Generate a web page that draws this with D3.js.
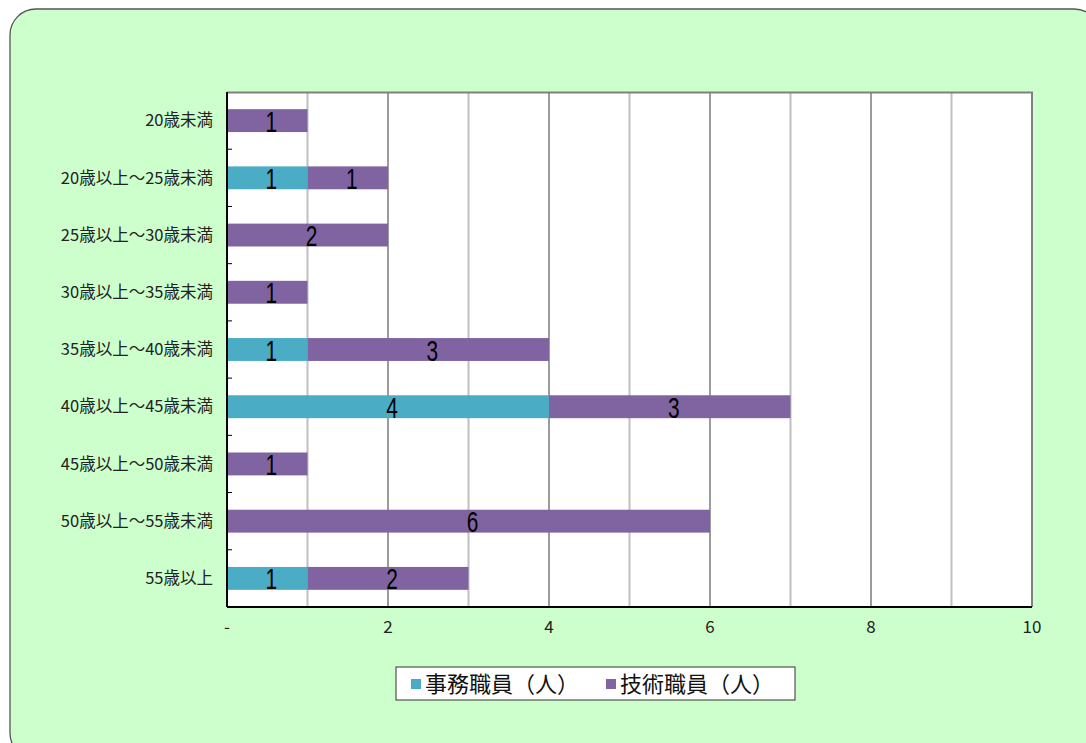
<!DOCTYPE html>
<html>
  <head>
    <meta charset="utf-8">
    <title>年齢別職員数</title>
    <script src="https://d3js.org/d3.v7.min.js"></script>
    <style>
      body { margin: 0; background: #fff; }
      text { font-family: "Noto Sans CJK JP", sans-serif; }
    </style>
  </head>
  <body>
    <svg width="1086" height="743" id="mainsvg"></svg>
    <script>
      const categories = ['20歳未満', '20歳以上～25歳未満', '25歳以上～30歳未満', '30歳以上～35歳未満',
        '35歳以上～40歳未満', '40歳以上～45歳未満', '45歳以上～50歳未満', '50歳以上～55歳未満', '55歳以上'];
      const clerical = [0, 1, 0, 0, 1, 4, 0, 0, 1];
      const technical = [1, 1, 2, 1, 3, 3, 1, 6, 2];
      const seriesNames = ['事務職員（人）', '技術職員（人）'];
      const colors = ['#4bacc6', '#8064a2'];
      const xTicks = [0, 2, 4, 6, 8, 10];

      const svg = d3.select('#mainsvg');
      const margin = {top: 92, left: 227, right: 54, bottom: 136};
      const width = +svg.attr('width');
      const height = +svg.attr('height');
      const innerWidth = width - margin.left - margin.right;
      const innerHeight = height - margin.top - margin.bottom;

      // background panel
      svg.append('rect')
        .attr('x', 10).attr('y', 9).attr('width', 1090).attr('height', 750)
        .attr('rx', 26).attr('ry', 26)
        .attr('fill', '#ccffcc').attr('stroke', '#555').attr('stroke-width', 1.3);

      const g = svg.append('g').attr('transform', `translate(${margin.left}, ${margin.top})`);

      const xScale = d3.scaleLinear().domain([0, 10]).range([0, innerWidth]);
      const yScale = d3.scaleBand().domain(categories).range([0, innerHeight]).paddingInner(0.6).paddingOuter(0.3);

      g.append('rect').attr('width', innerWidth).attr('height', innerHeight).attr('fill', '#fff');

      // gridlines
      g.selectAll('.grid').data(d3.range(1, 11)).join('line')
        .attr('class', 'grid')
        .attr('x1', d => xScale(d)).attr('x2', d => xScale(d))
        .attr('y1', 0).attr('y2', innerHeight)
        .attr('stroke', d => d % 2 === 0 ? '#595959' : '#c0c0c0')
        .attr('stroke-width', d => d % 2 === 0 ? 1.2 : 2);

      // top / right frame
      g.append('path').attr('d', `M0,0.5H${innerWidth}V${innerHeight}`)
        .attr('fill', 'none').attr('stroke', '#808080').attr('stroke-width', 2);

      // stacked bars
      const rows = categories.map((c, i) => ({cat: c, vals: [clerical[i], technical[i]]}));
      rows.forEach(r => {
        let x0 = 0;
        r.vals.forEach((v, k) => {
          if (v > 0) {
            g.append('rect')
              .attr('x', xScale(x0)).attr('width', xScale(x0 + v) - xScale(x0))
              .attr('y', yScale(r.cat)).attr('height', yScale.bandwidth())
              .attr('fill', colors[k]);
            const tx = xScale(x0 + v / 2) + 4;
            const ty = yScale(r.cat) + yScale.bandwidth() / 2 + 11;
            g.append('text')
              .attr('transform', `translate(${tx}, ${ty}) scale(0.72, 1)`)
              .attr('text-anchor', 'middle')
              .style('font-family', '"Liberation Sans", sans-serif')
              .attr('font-size', 29)
              .attr('fill', '#000')
              .text(v);
          }
          x0 += v;
        });
      });

      // y axis
      g.append('line').attr('x1', 0).attr('x2', 0).attr('y1', 0).attr('y2', innerHeight)
        .attr('stroke', '#000').attr('stroke-width', 2);
      const step = innerHeight / categories.length;
      g.selectAll('.ytick').data(d3.range(1, categories.length)).join('line')
        .attr('class', 'ytick')
        .attr('x1', 0).attr('x2', 5)
        .attr('y1', d => d * step).attr('y2', d => d * step)
        .attr('stroke', '#000');
      g.selectAll('.ylabel').data(categories).join('text')
        .attr('class', 'ylabel')
        .attr('x', -14)
        .attr('y', d => yScale(d) + yScale.bandwidth() / 2)
        .attr('dy', '0.35em')
        .attr('text-anchor', 'end')
        .attr('font-size', 16.5)
        .attr('fill', '#222')
        .text(d => d);

      // x axis
      g.append('line').attr('x1', 0).attr('x2', innerWidth).attr('y1', innerHeight).attr('y2', innerHeight)
        .attr('stroke', '#000').attr('stroke-width', 2);
      g.selectAll('.xlabel').data(xTicks).join('text')
        .attr('class', 'xlabel')
        .attr('x', d => xScale(d))
        .attr('y', innerHeight + 26)
        .attr('text-anchor', 'middle')
        .attr('font-size', 17)
        .attr('fill', '#222')
        .text(d => d === 0 ? '-' : d);

      // legend
      const lg = svg.append('g').attr('transform', 'translate(396, 667)');
      lg.append('rect').attr('width', 399).attr('height', 33)
        .attr('fill', '#fff').attr('stroke', '#333').attr('stroke-width', 1);
      const offsets = [15, 210];
      seriesNames.forEach((name, k) => {
        lg.append('rect').attr('x', offsets[k]).attr('y', 12).attr('width', 10).attr('height', 10)
          .attr('fill', colors[k]);
        lg.append('text').attr('x', offsets[k] + 14).attr('y', 17).attr('dy', '0.36em')
          .attr('font-size', 22).attr('fill', '#111').text(name);
      });
    </script>
  </body>
</html>
